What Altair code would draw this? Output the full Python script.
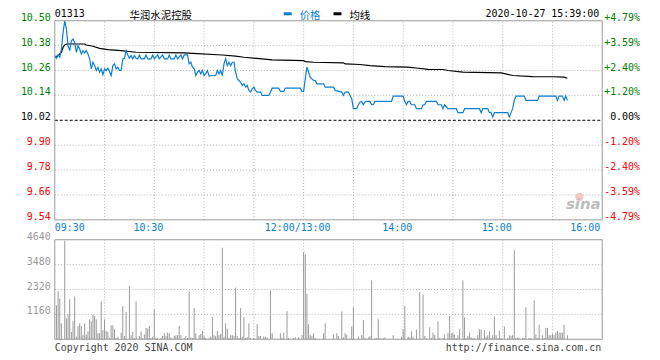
import altair as alt
import pandas as pd

# ---------------- data ----------------
stock_code = "01313"
stock_name = "华润水泥控股"
stamp = "2020-10-27 15:39:00"
prev_close = 10.02

# minutes since 09:30 (trading minutes, lunch break removed)
price_min = [0, 1, 2, 3, 4, 5, 6, 7, 8, 9, 10, 11, 12, 13, 14, 15, 16, 17, 18, 19,
             20, 21, 22, 23, 24, 25, 26, 27, 28, 29, 30, 31, 32, 33, 34, 35, 36, 37, 38, 39,
             40, 41, 42, 43, 44, 45, 46, 47, 48, 49, 50, 51, 52, 54, 55, 56, 58, 59, 60, 62,
             63, 65, 66, 68, 69, 70, 72, 73, 74, 76, 77, 78, 80, 81, 82, 83, 84, 85, 86, 87,
             88, 89, 90, 91, 92, 93, 95, 97, 98, 99, 100, 101, 102, 103, 104, 105, 106, 107, 108, 109,
             110, 111, 112, 113, 114, 115, 116, 117, 118, 119, 120, 121, 122, 124, 125, 129, 130, 131, 135, 136,
             138, 139, 148, 149, 150, 151, 152, 153, 154, 155, 156, 157, 158, 162, 163, 168, 169, 173, 174, 175,
             177, 178, 179, 180, 182, 183, 184, 185, 186, 187, 188, 190, 191, 192, 193, 203, 204, 210, 211, 212,
             213, 214, 215, 217, 218, 221, 222, 223, 224, 230, 231, 233, 234, 235, 236, 237, 242, 243, 246, 247,
             256, 257, 258, 261, 262, 263, 264, 265, 273, 274, 275, 276, 277, 278, 283, 284, 291, 292, 302, 303,
             304, 306, 307, 308, 309]
price_val = [10.332, 10.319, 10.335, 10.324, 10.364, 10.444, 10.500, 10.460, 10.380, 10.356,
             10.404, 10.412, 10.396, 10.348, 10.380, 10.364, 10.340, 10.356, 10.345, 10.356,
             10.340, 10.316, 10.268, 10.300, 10.284, 10.260, 10.276, 10.252, 10.268, 10.239,
             10.268, 10.260, 10.271, 10.255, 10.236, 10.284, 10.292, 10.268, 10.276, 10.260,
             10.260, 10.316, 10.319, 10.356, 10.335, 10.319, 10.332, 10.316, 10.332, 10.319,
             10.316, 10.335, 10.316, 10.316, 10.335, 10.316, 10.316, 10.335, 10.316, 10.335,
             10.316, 10.335, 10.316, 10.316, 10.335, 10.316, 10.316, 10.335, 10.316, 10.335,
             10.316, 10.335, 10.335, 10.292, 10.300, 10.276, 10.268, 10.236, 10.252, 10.260,
             10.244, 10.260, 10.236, 10.244, 10.260, 10.233, 10.236, 10.236, 10.260, 10.244,
             10.260, 10.236, 10.292, 10.316, 10.284, 10.300, 10.284, 10.300, 10.300, 10.252,
             10.220, 10.212, 10.204, 10.188, 10.196, 10.180, 10.188, 10.164, 10.156, 10.172,
             10.180, 10.164, 10.156, 10.156, 10.140, 10.140, 10.156, 10.175, 10.175, 10.159,
             10.159, 10.175, 10.175, 10.159, 10.159, 10.220, 10.276, 10.252, 10.228, 10.220,
             10.212, 10.212, 10.196, 10.196, 10.180, 10.180, 10.164, 10.156, 10.140, 10.156,
             10.156, 10.140, 10.124, 10.076, 10.076, 10.095, 10.108, 10.111, 10.095, 10.108,
             10.111, 10.111, 10.095, 10.095, 10.111, 10.111, 10.137, 10.137, 10.111, 10.095,
             10.111, 10.111, 10.095, 10.095, 10.076, 10.076, 10.095, 10.095, 10.111, 10.111,
             10.095, 10.095, 10.076, 10.095, 10.084, 10.076, 10.076, 10.057, 10.057, 10.076,
             10.076, 10.057, 10.076, 10.076, 10.057, 10.057, 10.036, 10.057, 10.057, 10.036,
             10.057, 10.076, 10.116, 10.137, 10.137, 10.116, 10.116, 10.137, 10.137, 10.116,
             10.137, 10.137, 10.116, 10.137, 10.116]

avg_min = [0, 2, 4, 5, 6, 7, 18, 19, 23, 27, 32, 40, 49, 78, 83, 101, 109, 114, 125, 131,
           150, 151, 156, 174, 175, 184, 190, 199, 213, 219, 225, 234, 237, 246, 269, 276, 288, 300, 307, 309]
avg_val = [10.324, 10.332, 10.348, 10.372, 10.383, 10.388, 10.388, 10.383, 10.377, 10.367,
           10.361, 10.356, 10.348, 10.345, 10.343, 10.335, 10.329, 10.324, 10.316, 10.311,
           10.308, 10.303, 10.300, 10.297, 10.292, 10.289, 10.284, 10.279, 10.276, 10.271,
           10.266, 10.265, 10.260, 10.252, 10.249, 10.236, 10.231, 10.230, 10.228, 10.223]

vol_min = [1, 2, 3, 4, 6, 7, 8, 9, 10, 11, 12, 13, 14, 15, 16, 17, 18, 19, 20, 21,
           22, 23, 24, 25, 26, 27, 28, 29, 30, 31, 32, 33, 34, 35, 36, 37, 38, 40, 41, 42,
           43, 45, 46, 47, 48, 49, 51, 52, 53, 54, 55, 56, 57, 58, 59, 60, 61, 62, 64, 65,
           66, 67, 68, 69, 70, 72, 73, 74, 75, 76, 78, 79, 80, 81, 82, 83, 84, 85, 87, 88,
           89, 90, 91, 93, 94, 95, 96, 97, 98, 99, 100, 101, 102, 103, 104, 105, 106, 107, 108, 109,
           110, 111, 112, 113, 114, 115, 116, 117, 118, 120, 122, 123, 124, 126, 127, 128, 130, 131, 136, 137,
           138, 140, 141, 144, 145, 147, 149, 150, 151, 152, 153, 154, 155, 156, 157, 162, 163,
           168, 170, 171, 173, 174, 175, 176, 178, 179, 180, 183, 185, 186, 187, 189, 190, 191, 193,
           194, 195, 196, 198, 199, 204, 209, 210, 211, 213, 214, 215, 216, 218, 220, 222, 223, 224,
           226, 227, 228, 229, 231, 232, 234, 235, 237, 238, 239, 240, 241, 242, 243, 244, 246, 247,
           248, 249, 250, 251, 252, 253, 255, 256, 257, 259, 260, 261, 262, 263, 264, 265, 266, 267,
           268, 269, 271, 273, 274, 275, 276, 277, 278, 279, 280, 282, 283, 284, 286, 287, 289, 290,
           291, 292, 294, 295, 296, 297, 298, 299, 300, 301, 302, 303, 304, 305, 306, 307, 309]
vol_val = [1580, 2240, 1900, 740, 4600, 975, 1160, 1860, 340, 835, 2000, 120, 620, 740, 620, 190, 740, 220, 370, 930,
           835, 1160, 1080, 930, 280, 280, 1760, 420, 930, 390, 340, 60, 650, 650, 460, 60, 110, 310, 1550, 155,
           1270, 2480, 190, 340, 60, 1760, 155, 370, 60, 220, 530, 500, 620, 60, 120, 1390, 60, 60, 60, 155,
           280, 155, 310, 280, 90, 155, 190, 190, 620, 190, 60, 155, 60, 2240, 90, 60, 1450, 280, 190, 250,
           390, 155, 60, 60, 120, 1040, 190, 155, 390, 190, 250, 4270, 120, 740, 500, 60, 190, 190, 155, 2410,
           155, 60, 1450, 120, 1040, 60, 90, 740, 60, 60, 700, 155, 155, 120, 120, 90, 2290, 280, 280, 60,
           310, 1310, 60, 60, 90, 90, 190, 4050, 3950, 2130, 700, 190, 155, 280, 60, 280, 740,
           220, 280, 155, 1300, 90, 280, 220, 60, 590, 1490, 120, 190, 900, 60, 90, 155, 2750, 60,
           60, 930, 60, 60, 90, 190, 120, 460, 1550, 120, 90, 370, 120, 460, 2200, 2090, 155, 60,
           560, 60, 310, 190, 835, 60, 60, 220, 280, 1080, 280, 280, 220, 60, 190, 460, 2750, 1020,
           60, 155, 310, 90, 60, 60, 190, 460, 460, 430, 120, 190, 370, 60, 190, 1070, 190, 60,
           400, 60, 590, 60, 190, 155, 190, 4150, 60, 90, 60, 60, 60, 1490, 60, 60, 1810, 230,
           60, 680, 190, 60, 530, 530, 190, 190, 250, 190, 310, 390, 310, 310, 310, 680, 190]

price_ticks = [10.50, 10.38, 10.26, 10.14, 10.02, 9.90, 9.78, 9.66, 9.54]
price_tick_labels = ["10.50", "10.38", "10.26", "10.14", "10.02", "9.90", "9.78", "9.66", "9.54"]
pct_tick_labels = ["+4.79%", "+3.59%", "+2.40%", "+1.20%", "0.00%", "-1.20%", "-2.40%", "-3.59%", "-4.79%"]
vol_ticks = [4640, 3480, 2320, 1160]
vol_tick_labels = ["4640", "3480", "2320", "1160"]
time_tick_min = [0, 60, 150, 210, 270, 330]
time_tick_labels = ["09:30", "10:30", "12:00/13:00", "14:00", "15:00", "16:00"]
grid_min = [30, 60, 90, 120, 150, 180, 210, 240, 270, 300]

# ---------------- layout ----------------
W, H = 550, 320
PRICE_H, VOL_H = 200, 100
P_LO, P_HI = price_ticks[-1], price_ticks[0]
V_HI = vol_ticks[0]
price_dom = [P_LO - (P_HI - P_LO) * (H - PRICE_H) / PRICE_H, P_HI]
vol_dom = [0, V_HI * H / VOL_H]

MONO = "DejaVu Sans Mono"
CJK = "Noto Sans CJK SC"
BLUE = "#0b7fd0"
GRID = "#b4b4b4"
FRAME = "#9a9a9a"

xs = alt.Scale(domain=[0, 330], nice=False, zero=False)
ps = alt.Scale(domain=price_dom, nice=False, zero=False)
vs = alt.Scale(domain=vol_dom, nice=False, zero=False)
dir_scale = alt.Scale(domain=["up", "flat", "down"], range=["#008000", "#000000", "#ff0000"])

def direction(p):
    return "up" if p > prev_close + 1e-9 else ("down" if p < prev_close - 1e-9 else "flat")

price_df = pd.DataFrame({"m": price_min, "p": price_val})
avg_df = pd.DataFrame({"m": avg_min, "p": avg_val})
vol_df = pd.DataFrame({"m": vol_min, "v": vol_val, "z": 0})
ptick_df = pd.DataFrame({"p": price_ticks, "lab": price_tick_labels, "pct": pct_tick_labels,
                         "dir": [direction(p) for p in price_ticks]})
pgrid_df = ptick_df[(ptick_df.p != P_LO) & (ptick_df.p != P_HI) & (ptick_df.p != prev_close)]
vtick_df = pd.DataFrame({"v": vol_ticks, "lab": vol_tick_labels})
vgrid_df = vtick_df[vtick_df.v != V_HI]
tgrid_df = pd.DataFrame({"m": grid_min, "plo": P_LO, "phi": P_HI, "vlo": 0, "vhi": V_HI})
time_df = pd.DataFrame({"m": time_tick_min, "lab": time_tick_labels})
box_df = pd.DataFrame({"m0": [0], "m1": [330], "plo": [P_LO], "phi": [P_HI], "vlo": [0], "vhi": [V_HI]})
pc_df = pd.DataFrame({"p": [prev_close]})
one = pd.DataFrame({"k": [0]})

X = lambda f="m:Q": alt.X(f, scale=xs, axis=None)
YP = lambda f="p:Q": alt.Y(f, scale=ps, axis=None)
YV = lambda f="v:Q": alt.Y(f, scale=vs, axis=None)

layers = []
# grids
layers.append(alt.Chart(pgrid_df).mark_rule(color=GRID, strokeDash=[1, 2], strokeWidth=1)
              .encode(x=alt.value(0), x2=alt.value(W), y=YP()))
layers.append(alt.Chart(vgrid_df).mark_rule(color=GRID, strokeDash=[1, 2], strokeWidth=1)
              .encode(x=alt.value(0), x2=alt.value(W), y=YV()))
layers.append(alt.Chart(tgrid_df).mark_rule(color=GRID, strokeDash=[1, 2], strokeWidth=1)
              .encode(x=X(), y=YP("plo:Q"), y2="phi:Q"))
layers.append(alt.Chart(tgrid_df).mark_rule(color=GRID, strokeDash=[1, 2], strokeWidth=1)
              .encode(x=X(), y=YV("vlo:Q"), y2="vhi:Q"))
# previous close
layers.append(alt.Chart(pc_df).mark_rule(color="#000000", strokeDash=[3, 2], strokeWidth=1)
              .encode(x=alt.value(0), x2=alt.value(W), y=YP()))
# sina watermark
layers.append(alt.Chart(one).mark_circle(color="#f3b9b9", size=70, opacity=0.8)
              .encode(x=alt.value(527), y=alt.value(177)))
layers.append(alt.Chart(one).mark_text(text="sina", font="DejaVu Sans", fontSize=15, fontWeight="bold",
                                        fontStyle="italic", color="#bdbdbd", align="center", baseline="alphabetic")
              .encode(x=alt.value(531), y=alt.value(189)))
# volume bars
layers.append(alt.Chart(vol_df).mark_rule(color="#999999", strokeWidth=1)
              .encode(x=X(), y=YV(), y2="z:Q"))
# average and price lines
layers.append(alt.Chart(avg_df).mark_line(color="#000000", strokeWidth=1.2)
              .encode(x=X(), y=YP()))
layers.append(alt.Chart(price_df).mark_line(color=BLUE, strokeWidth=1.2)
              .encode(x=X(), y=YP()))
# frames
layers.append(alt.Chart(box_df).mark_rect(fillOpacity=0, stroke=FRAME, strokeWidth=1)
              .encode(x=X("m0:Q"), x2="m1:Q", y=YP("plo:Q"), y2="phi:Q"))
layers.append(alt.Chart(box_df).mark_rect(fillOpacity=0, stroke=FRAME, strokeWidth=1)
              .encode(x=X("m0:Q"), x2="m1:Q", y=YV("vlo:Q"), y2="vhi:Q"))
# price labels left / right
layers.append(alt.Chart(ptick_df).mark_text(font=MONO, fontSize=10, align="right", baseline="alphabetic")
              .encode(x=alt.value(-4), y=YP(), text="lab:N",
                      color=alt.Color("dir:N", scale=dir_scale, legend=None)))
layers.append(alt.Chart(ptick_df).mark_text(font=MONO, fontSize=10, align="right", baseline="alphabetic")
              .encode(x=alt.value(W + 38), y=YP(), text="pct:N",
                      color=alt.Color("dir:N", scale=dir_scale, legend=None)))
# volume labels
layers.append(alt.Chart(vtick_df).mark_text(font=MONO, fontSize=10, align="right", baseline="alphabetic",
                                             color="#999999")
              .encode(x=alt.value(-4), y=YV(), text="lab:N"))
# time labels
layers.append(alt.Chart(time_df.iloc[:1]).mark_text(font=MONO, fontSize=10, align="left", baseline="alphabetic",
                                                     color=BLUE)
              .encode(x=X(), y=alt.value(PRICE_H + 11), text="lab:N"))
layers.append(alt.Chart(time_df.iloc[1:-1]).mark_text(font=MONO, fontSize=10, align="center",
                                                       baseline="alphabetic", color=BLUE, dx=-6)
              .encode(x=X(), y=alt.value(PRICE_H + 11), text="lab:N"))
layers.append(alt.Chart(time_df.iloc[-1:]).mark_text(font=MONO, fontSize=10, align="right",
                                                      baseline="alphabetic", color=BLUE, dx=-2)
              .encode(x=X(), y=alt.value(PRICE_H + 11), text="lab:N"))

# header
def note(text, x, y, align="left", font=MONO, size=10, color="#000000", baseline="alphabetic"):
    return (alt.Chart(one).mark_text(text=text, font=font, fontSize=size, align=align,
                                     baseline=baseline, color=color)
            .encode(x=alt.value(x), y=alt.value(y)))

layers.append(note(stock_code, 0, -4))
layers.append(note(stock_name, 75, -1.5, font=CJK, size=10.5))
layers.append(alt.Chart(one).mark_rule(color=BLUE, strokeWidth=3)
              .encode(x=alt.value(230), x2=alt.value(238), y=alt.value(-7)))
layers.append(note("价格", 246, -1.5, font=CJK, size=10.5, color=BLUE))
layers.append(alt.Chart(one).mark_rule(color="#000000", strokeWidth=3)
              .encode(x=alt.value(280), x2=alt.value(288), y=alt.value(-7)))
layers.append(note("均线", 296, -1.5, font=CJK, size=10.5))
layers.append(note(stamp, 547, -4, align="right"))
# footer
layers.append(note("Copyright 2020 SINA.COM", 0, 332, color="#444444"))
layers.append(note("http://finance.sina.com.cn", 549, 332, align="right", color="#444444"))

chart = (alt.layer(*layers)
         .resolve_scale(y="independent", color="independent")
         .properties(width=W, height=H, padding={"left": 47, "top": 12, "right": 50, "bottom": 18},
                     autosize=alt.AutoSizeParams(type="none"), background="#ffffff")
         .configure_view(stroke=None))

chart.save("out.html", embed_options={"renderer": "svg", "actions": False})
